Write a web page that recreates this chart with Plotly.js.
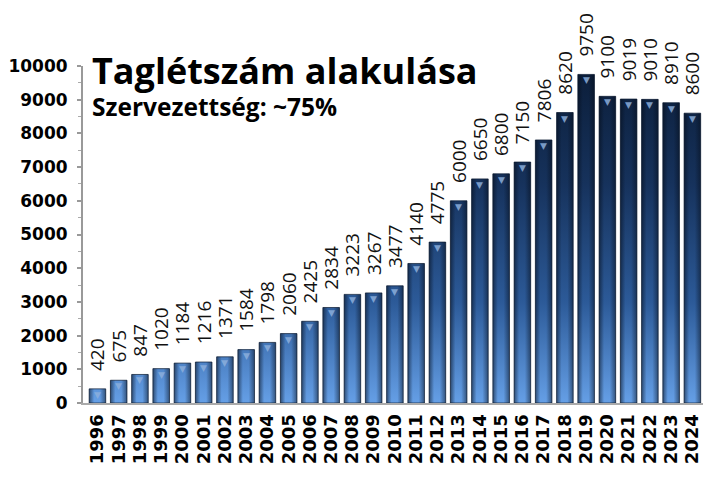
<!DOCTYPE html>
<html>
<head>
<meta charset="utf-8">
<script src="https://cdn.plot.ly/plotly-3.0.1.min.js"></script>
<style>html,body{margin:0;padding:0;background:#fff;}#chart{width:703px;height:483px;}</style>
</head>
<body>
<div id="chart"></div>
<script>
const years = ['1996','1997','1998','1999','2000','2001','2002','2003','2004','2005','2006','2007','2008','2009','2010','2011','2012','2013','2014','2015','2016','2017','2018','2019','2020','2021','2022','2023','2024'];
const members = [420,675,847,1020,1184,1216,1371,1584,1798,2060,2425,2834,3223,3267,3477,4140,4775,6000,6650,6800,7150,7806,8620,9750,9100,9019,9010,8910,8600];
const yTicks = [0,1000,2000,3000,4000,5000,6000,7000,8000,9000,10000];
const titleText = 'Taglétszám alakulása';
const subtitleText = 'Szervezettség: ~75%';

const annotations = [];
years.forEach((yr, i) => {
  annotations.push({x: i, y: members[i], xref: 'x', yref: 'y', text: '▼',
    showarrow: false, xanchor: 'center', yanchor: 'top', yshift: 1,
    font: {family: 'DejaVu Sans', size: 9, color: 'rgba(140,175,220,0.85)'}});
});
annotations.push({xref: 'paper', yref: 'paper', x: 0.012, y: 1.065, xanchor: 'left', yanchor: 'top',
  text: '<b>' + titleText + '</b>', showarrow: false, font: {family: 'Open Sans', size: 36, color: '#000'}});
annotations.push({xref: 'paper', yref: 'paper', x: 0.012, y: 0.935, xanchor: 'left', yanchor: 'top',
  text: '<b>' + subtitleText + '</b>', showarrow: false, font: {family: 'Open Sans', size: 24.5, color: '#000'}});

const trace = {
  type: 'bar', x: years, y: members,
  text: members.map(v => '\u00a0\u00a0\u00a0' + v),
  texttemplate: '%{text}',
  textposition: 'outside', textangle: -90, constraintext: 'none',
  outsidetextfont: {family: 'Open Sans', size: 19, color: '#111'},
  marker: {color: '#2a5590', line: {color: 'rgba(15,30,55,0.9)', width: 0.8}},
  hoverinfo: 'none', cliponaxis: false
};

const layout = {
  width: 703, height: 483,
  margin: {l: 83, r: 0, t: 66, b: 80},
  paper_bgcolor: '#fff', plot_bgcolor: '#fff',
  bargap: 0.22,
  showlegend: false,
  xaxis: {type: 'category', range: [-0.68, 28.5], showgrid: false, zeroline: false,
    tickmode: 'array', tickvals: years, ticktext: years,
    showline: true, linecolor: '#aaa', linewidth: 2, ticks: '', tickangle: -90,
    tickfont: {family: 'DejaVu Sans', size: 18, color: '#000', weight: 'bold'}, ticklabelstandoff: 2},
  yaxis: {range: [0, 10000], tickvals: yTicks, ticktext: yTicks.map(String), showgrid: false, zeroline: false,
    showline: true, linecolor: '#999', linewidth: 2, ticks: 'outside', ticklen: 4, tickcolor: '#999', tickwidth: 2,
    minor: {dtick: 500, ticks: 'outside', ticklen: 3, tickcolor: '#aaa', tickwidth: 1},
    tickfont: {family: 'DejaVu Sans', size: 17, color: '#000', weight: 'bold'}, ticklabelstandoff: 6},
  annotations: annotations
};

Plotly.newPlot('chart', [trace], layout, {staticPlot: true}).then(gd => {
  const svg = gd.querySelector('svg.main-svg');
  const ns = 'http://www.w3.org/2000/svg';
  let defs = svg.querySelector('defs');
  if (!defs) { defs = document.createElementNS(ns, 'defs'); svg.insertBefore(defs, svg.firstChild); }
  const ph = gd._fullLayout._size.h;
  const v = document.createElementNS(ns, 'linearGradient');
  v.setAttribute('id', 'vgrad'); v.setAttribute('gradientUnits', 'userSpaceOnUse');
  v.setAttribute('x1', 0); v.setAttribute('x2', 0); v.setAttribute('y1', 0); v.setAttribute('y2', ph);
  [[0, '#0b1d38'], [0.35, '#16325c'], [0.7, '#2c5a98'], [1, '#659fe6']].forEach(([o, c]) => {
    const s = document.createElementNS(ns, 'stop'); s.setAttribute('offset', o); s.setAttribute('stop-color', c); v.appendChild(s);
  });
  defs.appendChild(v);
  const h = document.createElementNS(ns, 'linearGradient');
  h.setAttribute('id', 'hgrad'); h.setAttribute('x1', 0); h.setAttribute('x2', 1); h.setAttribute('y1', 0); h.setAttribute('y2', 0);
  [[0, 0.55], [0.3, 0], [0.65, 0], [1, 0.5]].forEach(([o, a]) => {
    const s = document.createElementNS(ns, 'stop'); s.setAttribute('offset', o); s.setAttribute('stop-color', '#050d1a'); s.setAttribute('stop-opacity', a); h.appendChild(s);
  });
  defs.appendChild(h);
  gd.querySelectorAll('.barlayer .point path').forEach(p => {
    p.style.fill = 'url(#vgrad)';
    const c = p.cloneNode(true);
    c.style.fill = 'url(#hgrad)'; c.style.stroke = 'none';
    p.parentNode.insertBefore(c, p.nextSibling);
  });
});
</script>
</body>
</html>
